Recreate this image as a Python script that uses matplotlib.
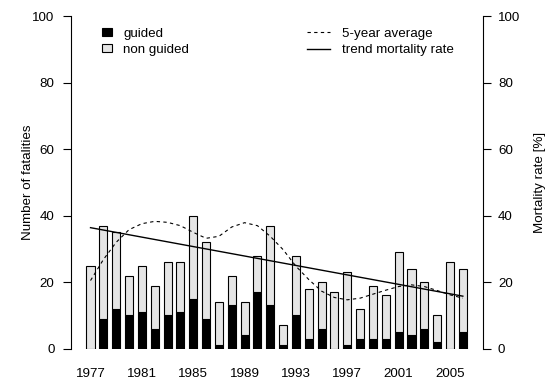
import matplotlib
matplotlib.use("Agg")
import matplotlib.pyplot as plt
import numpy as np
from matplotlib.patches import Patch
from matplotlib.lines import Line2D

# data
years = list(range(1977, 2007))
guided = [0, 9, 12, 10, 11, 6, 10, 11, 15, 9, 1, 13, 4, 17, 13,
          1, 10, 3, 6, 0, 1, 3, 3, 3, 5, 4, 6, 2, 0, 5]
non_guided = [25, 28, 23, 12, 14, 13, 16, 15, 25, 23, 13, 9, 10, 11, 24,
              6, 18, 15, 14, 17, 22, 9, 16, 13, 24, 20, 14, 8, 26, 19]
avg5 = [20.5, 26.8, 32.0, 35.8, 37.6, 38.3, 38.0, 37.0, 35.0, 33.2,
        33.8, 36.6, 37.9, 37.0, 33.8, 29.8, 24.8, 20.8, 17.3, 15.4,
        14.7, 15.2, 16.4, 17.6, 18.7, 19.2, 18.7, 17.5, 16.2, 15.2]
trend_years = [1977, 2006]
trend_rate = [36.4, 15.8]
xtick_years = [1977, 1981, 1985, 1989, 1993, 1997, 2001, 2005]
yticks = [0, 20, 40, 60, 80, 100]

GRAY = "#e5e5e5"
FS = 9.6

plt.rcParams.update({
    "font.family": ["Liberation Sans", "DejaVu Sans"],
    "font.size": FS,
    "axes.linewidth": 0.8,
    "xtick.major.width": 0.8,
    "ytick.major.width": 0.8,
})

W, H = 547, 379
fig = plt.figure(figsize=(W / 100, H / 100), dpi=100)
ax = fig.add_axes([71 / W, (H - 348.7) / H, 412 / W, 332.5 / H])

ax.bar(years, guided, width=0.63, color="black", edgecolor="black", linewidth=0.8)
ax.bar(years, non_guided, width=0.63, bottom=guided, color=GRAY,
       edgecolor="black", linewidth=0.8)

ax.set_xlim(1975.48, 2007.57)
ax.set_ylim(0, 100)
ax.set_yticks(yticks)
ax.set_xticks(xtick_years)
ax.tick_params(axis="x", length=0, pad=14)
ax.tick_params(axis="y", length=5.8, pad=6)
for s in ("top", "right", "bottom"):
    ax.spines[s].set_visible(False)
ax.set_ylabel("Number of fatalities", va="center")
ax.yaxis.set_label_coords((28 - 71) / 412, 0.5)

ax2 = ax.twinx()
ax2.set_ylim(0, 100)
ax2.set_yticks(yticks)
ax2.tick_params(axis="y", length=5.8, pad=5)
for s in ("top", "left", "bottom"):
    ax2.spines[s].set_visible(False)
ax2.plot(years, avg5, color="black", lw=0.8, ls=(0, (3, 3)))
ax2.plot(trend_years, trend_rate, color="black", lw=1.0)
ax2.set_ylabel("Mortality rate [%]", va="center")
ax2.yaxis.set_label_coords((540 - 71) / 412, 0.5)

h1 = [Patch(facecolor="black", edgecolor="black", lw=0.8),
      Patch(facecolor=GRAY, edgecolor="black", lw=0.8)]
fig.legend(h1, ["guided", "non guided"], loc="upper left",
           bbox_to_anchor=(102 / W, 1 - 27.5 / H), frameon=False,
           borderpad=0, borderaxespad=0, handlelength=0.75, handleheight=0.6,
           handletextpad=0.85, labelspacing=0.3, fontsize=FS)

h2 = [Line2D([], [], color="black", lw=0.8, ls=(0, (3, 3))),
      Line2D([], [], color="black", lw=1.0)]
fig.legend(h2, ["5-year average", "trend mortality rate"], loc="upper left",
           bbox_to_anchor=(307 / W, 1 - 27.5 / H), frameon=False,
           borderpad=0, borderaxespad=0, handlelength=1.73,
           handletextpad=0.88, labelspacing=0.3, fontsize=FS)

fig.savefig("out.png", dpi=100)
